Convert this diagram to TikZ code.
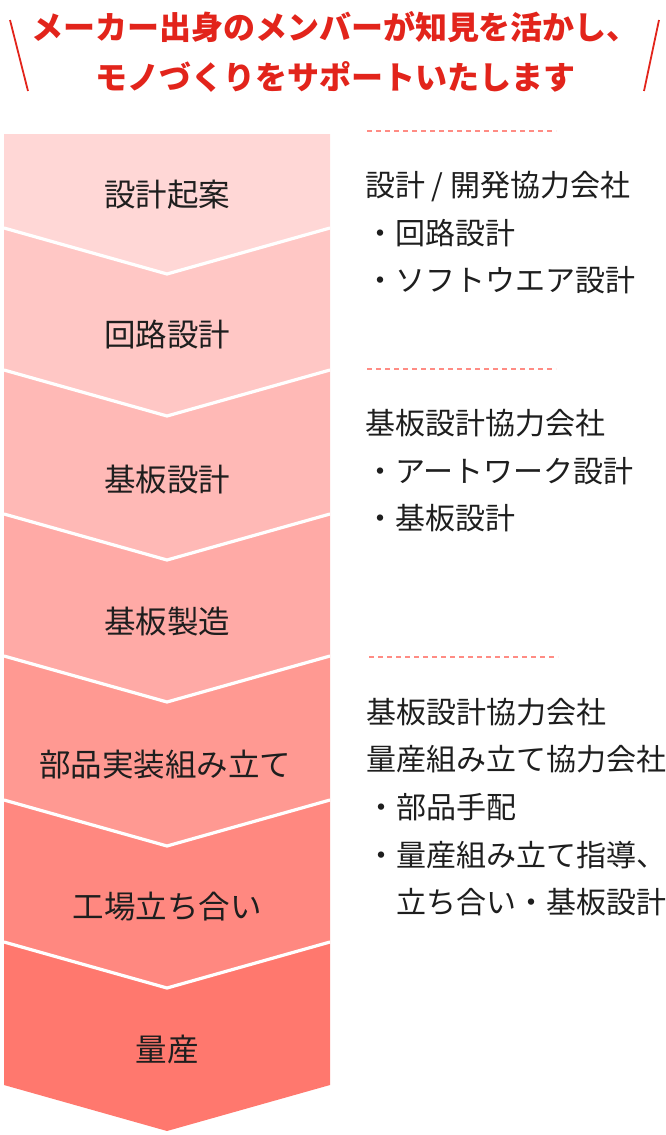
\documentclass[tikz,border=0pt]{standalone}
\usepackage{fontspec}
\newfontfamily\jp{Noto Sans CJK JP}
\definecolor{headred}{HTML}{E2241B}
\definecolor{dashpink}{HTML}{FF8C84}
\definecolor{txt}{HTML}{1E1E1E}
\definecolor{cA}{HTML}{FFD7D6}
\definecolor{cB}{HTML}{FFC7C5}
\definecolor{cC}{HTML}{FFB9B6}
\definecolor{cD}{HTML}{FFAAA6}
\definecolor{cE}{HTML}{FF9992}
\definecolor{cF}{HTML}{FF8880}
\definecolor{cG}{HTML}{FF786E}
\tikzset{
  headtext/.style={text=headred, font=\jp\bfseries\fontsize{32}{32}\selectfont, inner sep=0pt},
  steplabel/.style={text=txt, font=\jp\fontsize{31.5}{31.5}\selectfont, inner sep=0pt},
  sidetext/.style={text=txt, font=\jp\fontsize{30}{30}\selectfont, inner sep=0pt, anchor=base west},
  sepline/.style={white, line width=3.2pt, line join=miter},
  slashline/.style={headred, line width=1.8pt},
  dashsep/.style={dashpink, line width=1.4pt, dash pattern=on 5pt off 4pt}
}
\begin{document}
\begin{tikzpicture}[x=1pt,y=-1pt]
\useasboundingbox (0,0) rectangle (666,1135);
% header
\coordinate (sl1a) at (10,20); \coordinate (sl1b) at (28,91);
\coordinate (sl2a) at (659,20); \coordinate (sl2b) at (644,91);
\draw[slashline] (sl1a) -- (sl1b);
\draw[slashline] (sl2a) -- (sl2b);
\node[headtext] (h1) at (335,27) {メーカー出身のメンバーが知見を活かし、};
\node[headtext] (h2) at (335,77) {モノづくりをサポートいたします};
% blocks
\fill[cA] (4,134) -- (330,134) -- (330,228) -- (167,274) -- (4,228) -- cycle;
\foreach \t/\b/\c in {228/370/cB, 370/514/cC, 514/656/cD, 656/800/cE, 800/942/cF, 942/1085/cG}{
  \fill[\c] (4,\t) -- (167,\t+46) -- (330,\t) -- (330,\b) -- (167,\b+46) -- (4,\b) -- cycle;
}
\foreach \b in {228,370,514,656,800,942}{
  \draw[sepline] (4,\b) -- (167,\b+46) -- (330,\b);
}
% step labels
\node[steplabel] (s1) at (167,195) {設計起案};
\node[steplabel] (s2) at (167,335) {回路設計};
\node[steplabel] (s3) at (167,480) {基板設計};
\node[steplabel] (s4) at (167,622) {基板製造};
\node[steplabel] (s5) at (165,765) {部品実装組み立て};
\node[steplabel] (s6) at (167,907) {工場立ち合い};
\node[steplabel] (s7) at (167,1050) {量産};
% dashed separators
\coordinate (d1a) at (367,131); \coordinate (d1b) at (556,131);
\coordinate (d2a) at (367,369); \coordinate (d2b) at (556,369);
\coordinate (d3a) at (369,657); \coordinate (d3b) at (558,657);
\draw[dashsep] (d1a) -- (d1b);
\draw[dashsep] (d2a) -- (d2b);
\draw[dashsep] (d3a) -- (d3b);
% side texts
\node[sidetext] (g1a) at (365,196) {設計 / 開発協力会社};
\node[sidetext] (g1b) at (365,244) {・回路設計};
\node[sidetext] (g1c) at (365,291) {・ソフトウエア設計};
\node[sidetext] (g2a) at (365,434) {基板設計協力会社};
\node[sidetext] (g2b) at (365,482) {・アートワーク設計};
\node[sidetext] (g2c) at (365,529) {・基板設計};
\node[sidetext] (g3a) at (366,723) {基板設計協力会社};
\node[sidetext] (g3b) at (366,770) {量産組み立て協力会社};
\node[sidetext] (g3c) at (366,818) {・部品手配};
\node[sidetext] (g3d) at (366,866) {・量産組み立て指導、};
\node[sidetext] (g3e) at (396,913) {立ち合い・基板設計};
\end{tikzpicture}
\end{document}
